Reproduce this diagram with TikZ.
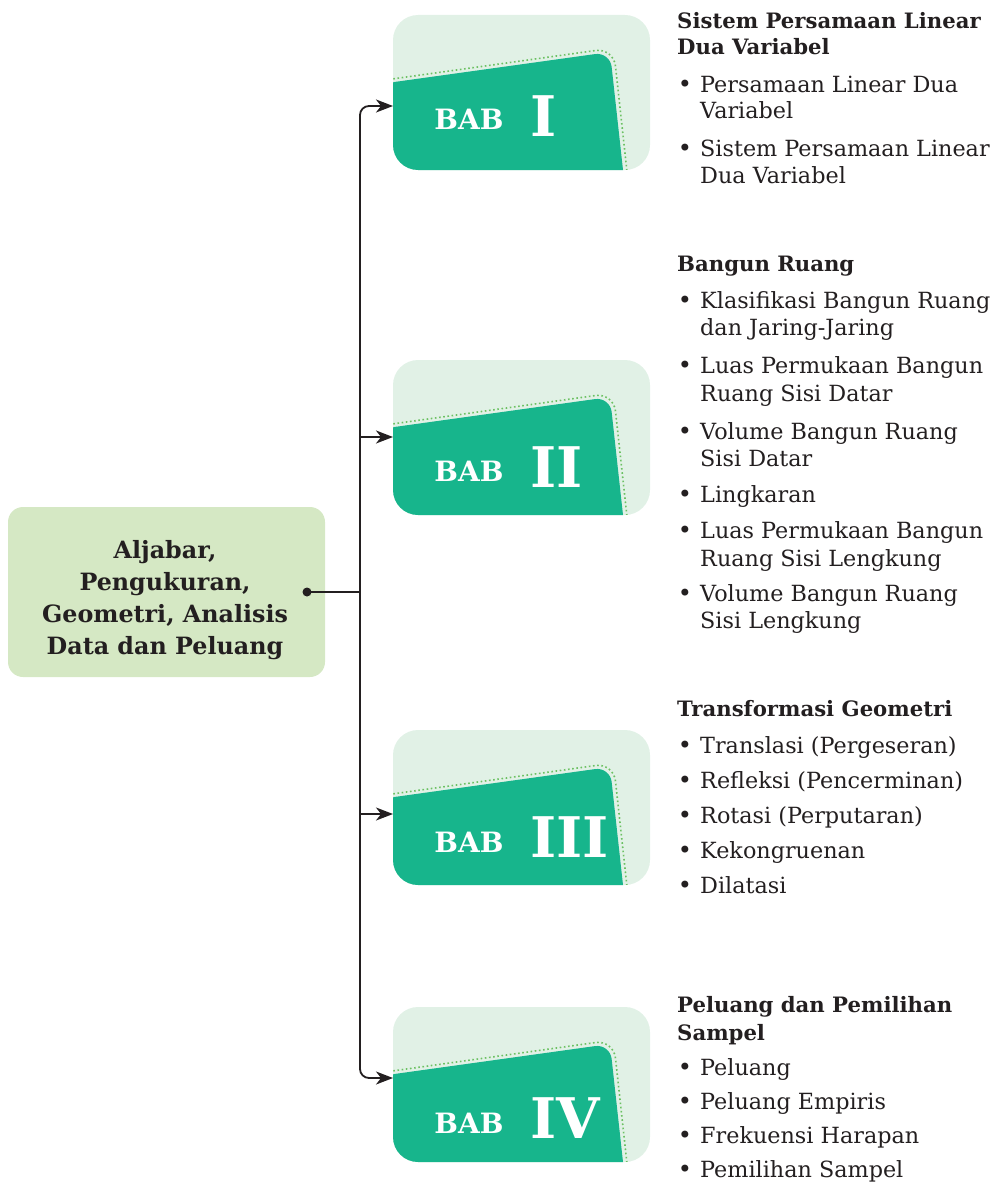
\documentclass[tikz,border=0pt]{standalone}
\usepackage{fontspec}
\setmainfont{DejaVu Serif}
\usetikzlibrary{arrows.meta}
\definecolor{ink}{HTML}{231F20}
\definecolor{teal}{HTML}{17B58C}
\definecolor{paleteal}{HTML}{E1F1E6}
\definecolor{palegreen}{HTML}{D5E8C4}
\definecolor{dotgreen}{HTML}{6CC163}
\tikzset{
  lightbox/.style={fill=paleteal, rounded corners=25pt, minimum width=257pt, minimum height=155pt, inner sep=0pt, draw=none},
  darkfill/.style={fill=teal, rounded corners=15pt},
  dotline/.style={draw=dotgreen, line width=1.6pt, dash pattern=on 1.6pt off 2.6pt, rounded corners=18pt},
  babtext/.style={text=white, font=\fontsize{28}{30}\selectfont\bfseries, inner sep=0pt},
  numtext/.style={text=white, font=\fontsize{56}{60}\selectfont\bfseries, inner sep=0pt},
  conn/.style={draw=ink, line width=1.8pt},
  arr/.style={conn, -{Stealth[length=17pt,width=13pt,inset=5pt]}},
  head/.style={text=ink, font=\fontsize{21.2}{26}\selectfont\bfseries, inner sep=0pt, anchor=base west},
  body/.style={text=ink, font=\fontsize{22.3}{27}\selectfont, inner sep=0pt, anchor=base west},
  bul/.style={text=ink, font=\fontsize{24}{27}\selectfont, inner sep=0pt, anchor=base},
  centertext/.style={text=ink, font=\fontsize{23.8}{32}\selectfont\bfseries, inner sep=0pt, anchor=base},
}
\newcommand\chapterbox[6]{%
  \node[lightbox] (#1) at (521.5,{#2+77.5}) {};
  \begin{scope}
    \clip[rounded corners=25pt] (393,#2) rectangle (650,{#2+155});
    \fill[darkfill] (380,{#2+69}) -- (610,{#2+37}) -- (625.2,{#2+175}) -- (380,{#2+175}) -- cycle;
    \draw[dotline] (385,{#2+65}) -- (613.5,{#2+33}) -- (629,{#2+175});
  \end{scope}
  \node[babtext, anchor=base] (#1bab) at (469,{#2+#4}) {BAB};
  \node[numtext, anchor=base west] (#1num) at (530,{#2+#5}) {#3};
  \coordinate (#1in) at (393,#6);
}
\newcommand\bulletline[3]{% name, y, text
  \node[bul] (#1dot) at (685,#2) {•};
  \node[body] (#1) at (700,#2) {#3};
}
\newcommand\contline[3]{%
  \node[body] (#1) at (700,#2) {#3};
}
\begin{document}
\begin{tikzpicture}[x=1pt,y=-1pt]
\useasboundingbox (0,0) rectangle (996,1188);
% central box
\fill[palegreen, rounded corners=15pt] (8,507) rectangle (325,677);
\node[centertext] (c1) at (165,558) {Aljabar,};
\node[centertext] (c2) at (165,590) {Pengukuran,};
\node[centertext] (c3) at (165,622) {Geometri, Analisis};
\node[centertext] (c4) at (165,654) {Data dan Peluang};
\node[circle, fill=ink, inner sep=0pt, minimum size=9pt] (dot) at (307,592) {};
\coordinate (hub) at (360,592);
% chapter boxes
\chapterbox{b1}{15}{I}{115}{121}{106}
\chapterbox{b2}{360}{II}{121}{127}{437}
\chapterbox{b3}{730}{III}{122}{127}{814}
\chapterbox{b4}{1007}{IV}{126}{131}{1078}
% connectors
\draw[conn] (dot.center) -- (hub);
\draw[arr, rounded corners=9pt] (hub) |- (b1in);
\draw[arr, rounded corners=9pt] (hub) |- (b4in);
\draw[arr] (b2in -| hub) -- (b2in);
\draw[arr] (b3in -| hub) -- (b3in);
% block 1
\node[head] (h1a) at (677,29) {Sistem Persamaan Linear};
\node[head] (h1b) at (677,55) {Dua Variabel};
\bulletline{t1a}{93}{Persamaan Linear Dua}
\contline{t1b}{119}{Variabel}
\bulletline{t1c}{157}{Sistem Persamaan Linear}
\contline{t1d}{183}{Dua Variabel}
% block 2
\node[head] (h2) at (677,271) {Bangun Ruang};
\bulletline{t2a}{308}{Klasifikasi Bangun Ruang}
\contline{t2b}{335}{dan Jaring-Jaring}
\bulletline{t2c}{373}{Luas Permukaan Bangun}
\contline{t2d}{401}{Ruang Sisi Datar}
\bulletline{t2e}{439}{Volume Bangun Ruang}
\contline{t2f}{466}{Sisi Datar}
\bulletline{t2g}{502}{Lingkaran}
\bulletline{t2h}{538}{Luas Permukaan Bangun}
\contline{t2i}{566}{Ruang Sisi Lengkung}
\bulletline{t2j}{601}{Volume Bangun Ruang}
\contline{t2k}{628}{Sisi Lengkung}
% block 3
\node[head] (h3) at (677,716) {Transformasi Geometri};
\bulletline{t3a}{753}{Translasi (Pergeseran)}
\bulletline{t3b}{788}{Refleksi (Pencerminan)}
\bulletline{t3c}{823}{Rotasi (Perputaran)}
\bulletline{t3d}{858}{Kekongruenan}
\bulletline{t3e}{893}{Dilatasi}
% block 4
\node[head] (h4a) at (677,1012) {Peluang dan Pemilihan};
\node[head] (h4b) at (677,1040) {Sampel};
\bulletline{t4a}{1075}{Peluang}
\bulletline{t4b}{1109}{Peluang Empiris}
\bulletline{t4c}{1143}{Frekuensi Harapan}
\bulletline{t4d}{1177}{Pemilihan Sampel}
\end{tikzpicture}
\end{document}
